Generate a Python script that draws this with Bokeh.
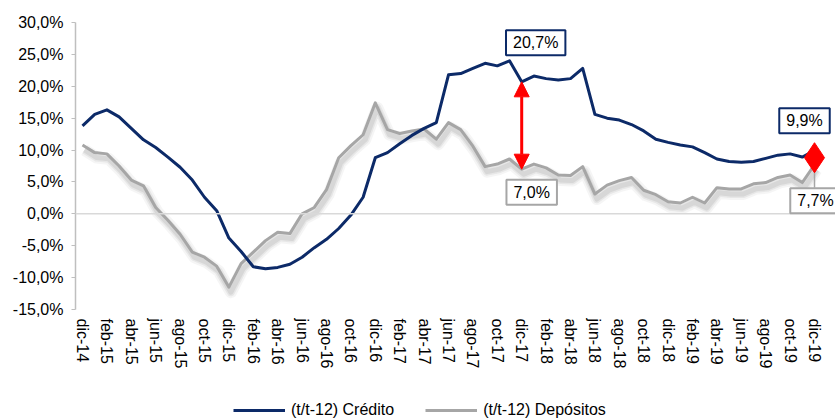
from bokeh.plotting import figure
from bokeh.models import (Range1d, FixedTicker, Label, Span, Arrow, NormalHead,
                          Legend, LegendItem, ColumnDataSource)
from bokeh.embed import file_html
from bokeh.resources import INLINE

# ---------------- data ----------------
months = ["dic-14", "ene-15", "feb-15", "mar-15", "abr-15", "may-15", "jun-15", "jul-15",
          "ago-15", "sep-15", "oct-15", "nov-15", "dic-15", "ene-16", "feb-16", "mar-16",
          "abr-16", "may-16", "jun-16", "jul-16", "ago-16", "sep-16", "oct-16", "nov-16",
          "dic-16", "ene-17", "feb-17", "mar-17", "abr-17", "may-17", "jun-17", "jul-17",
          "ago-17", "sep-17", "oct-17", "nov-17", "dic-17", "ene-18", "feb-18", "mar-18",
          "abr-18", "may-18", "jun-18", "jul-18", "ago-18", "sep-18", "oct-18", "nov-18",
          "dic-18", "ene-19", "feb-19", "mar-19", "abr-19", "may-19", "jun-19", "jul-19",
          "ago-19", "sep-19", "oct-19", "nov-19", "dic-19"]

credito = [13.8, 15.6, 16.3, 15.2, 13.4, 11.6, 10.4, 8.9, 7.3, 5.3, 2.6, 0.5,
           -3.8, -5.9, -8.3, -8.6, -8.4, -7.9, -6.8, -5.3, -4.0, -2.3, -0.2, 2.6,
           8.8, 9.6, 11.0, 12.3, 13.4, 14.3, 21.8, 22.0, 22.8, 23.6, 23.2, 24.0,
           20.7, 21.6, 21.2, 21.0, 21.2, 22.8, 15.6, 15.0, 14.7, 14.0, 13.0, 11.7,
           11.2, 10.8, 10.5, 9.6, 8.6, 8.2, 8.1, 8.2, 8.7, 9.2, 9.4, 8.9, 9.9]

depositos = [10.8, 9.6, 9.4, 7.5, 5.3, 4.4, 1.0, -1.0, -3.2, -6.0, -6.8, -8.2,
             -11.5, -7.8, -6.0, -4.2, -2.9, -3.1, 0.0, 1.0, 3.8, 8.8, 10.7, 12.4,
             17.4, 13.2, 12.6, 13.0, 13.3, 11.7, 14.3, 13.2, 10.6, 7.4, 7.8, 8.6,
             7.0, 7.8, 7.2, 6.1, 6.0, 7.4, 3.1, 4.5, 5.2, 5.7, 3.7, 3.0,
             1.9, 1.7, 2.6, 1.7, 4.1, 3.9, 3.9, 4.7, 4.9, 5.7, 6.1, 4.9, 7.7]

x_tick_labels = ["dic-14", "feb-15", "abr-15", "jun-15", "ago-15", "oct-15", "dic-15",
                 "feb-16", "abr-16", "jun-16", "ago-16", "oct-16", "dic-16", "feb-17",
                 "abr-17", "jun-17", "ago-17", "oct-17", "dic-17", "feb-18", "abr-18",
                 "jun-18", "ago-18", "oct-18", "dic-18", "feb-19", "abr-19", "jun-19",
                 "ago-19", "oct-19", "dic-19"]
y_ticks = [-15, -10, -5, 0, 5, 10, 15, 20, 25, 30]
y_tick_labels = ["-15,0%", "-10,0%", "-5,0%", "0,0%", "5,0%", "10,0%", "15,0%",
                 "20,0%", "25,0%", "30,0%"]

serie_credito = "(t/t-12) Crédito"
serie_depositos = "(t/t-12) Depósitos"

# ---------------- styling ----------------
NAVY = "#0C2A68"
GRAY = "#A6A6A6"
RED = "#FF0000"
FONT = "Liberation Sans"
FS = "16px"

W, H = 835, 419
LEFT, TOP = 75, 22
PX_Y = 287 / 45.0          # pixels per percentage point
PX_X = 12.2                # pixels per month

x_idx = list(range(len(months)))
src = ColumnDataSource(dict(x=x_idx, credito=credito, depositos=depositos))

frame_w = W - LEFT
X0 = -7 / PX_X
X1 = X0 + frame_w / PX_X
Y_LO, Y_HI = y_ticks[0], y_ticks[-1]
Y0 = Y_LO - (H - 309) / PX_Y
Y1 = Y_HI

p = figure(width=W, height=H, output_backend="svg", toolbar_location=None,
           x_range=Range1d(X0, X1), y_range=Range1d(Y0, Y1),
           min_border_left=LEFT, min_border_right=0, min_border_top=TOP,
           min_border_bottom=0)
p.grid.visible = False
p.outline_line_color = None
p.background_fill_color = "white"
p.border_fill_color = "white"

# x axis, drawn at the bottom of the value range
xa = p.xaxis[0]
xa.fixed_location = Y_LO
xa.ticker = FixedTicker(ticks=x_idx[::2])
xa.major_label_overrides = {i: lab for i, lab in zip(x_idx[::2], x_tick_labels)}
xa.major_label_orientation = "vertical"
xa.axis_line_color = None
xa.major_tick_line_color = None
xa.minor_tick_line_color = None
xa.major_tick_out = 0
xa.major_label_standoff = 9
xa.major_label_text_font = FONT
xa.major_label_text_font_size = FS
xa.major_label_text_color = "#000000"

# y axis
ya = p.yaxis[0]
ya.bounds = (Y_LO, Y_HI)
ya.ticker = FixedTicker(ticks=y_ticks)
ya.major_label_overrides = {t: lab for t, lab in zip(y_ticks, y_tick_labels)}
ya.axis_line_color = "#BFBFBF"
ya.axis_line_width = 1.5
ya.major_tick_line_color = "#BFBFBF"
ya.major_tick_out = 4
ya.major_tick_in = 0
ya.minor_tick_line_color = None
ya.major_label_standoff = 8
ya.major_label_text_font = FONT
ya.major_label_text_font_size = FS
ya.major_label_text_color = "#000000"

# zero line
p.add_layout(Span(location=0, dimension="width", line_color="#D9D9D9", line_width=1.5))

# shadow of deposits line (shifted copy via extra ranges)
dy = 5 / PX_Y
dx = 2 / PX_X
p.extra_y_ranges = {"sh": Range1d(Y0 + dy, Y1 + dy)}
p.extra_x_ranges = {"shx": Range1d(X0 - dx, X1 - dx)}
for w, a in [(12, 0.08), (8, 0.12), (5, 0.16)]:
    p.line("x", "depositos", source=src, x_range_name="shx", y_range_name="sh",
           line_width=w, line_color="#808080", line_alpha=a, line_join="round")

r_dep = p.line("x", "depositos", source=src, line_width=3, line_color=GRAY, line_join="round")
r_cred = p.line("x", "credito", source=src, line_width=3, line_color=NAVY, line_join="round")

def fmt(v):
    return f"{v:.1f}".replace(".", ",") + "%"

i17 = months.index("dic-17")
iL = len(months) - 1

# red double arrow at dic-17
p.add_layout(Arrow(start=NormalHead(size=15, fill_color=RED, line_color=RED),
                   end=NormalHead(size=15, fill_color=RED, line_color=RED),
                   x_start=i17, y_start=depositos[i17], x_end=i17, y_end=credito[i17],
                   line_color=RED, line_width=3))

# leader line for last deposit label
p.segment(x0=[iL], y0=[depositos[iL]], x1=[iL], y1=[depositos[iL] - 23 / PX_Y],
          line_color=GRAY, line_width=1.5)

# red diamond at dic-19
p.scatter(x=[iL], y=[(credito[iL] + depositos[iL]) / 2], marker="diamond", size=30,
          fill_color=RED, line_color=RED)

def box_label(x, y, text, color, xo, yo):
    p.add_layout(Label(x=x, y=y, text=text, x_offset=xo, y_offset=yo,
                       text_align="center", text_baseline="middle",
                       text_font=FONT, text_font_size=FS, text_color="#000000",
                       border_line_color=color, border_line_width=2,
                       background_fill_color="white", padding=(7, 4)))

box_label(i17, credito[i17], fmt(credito[i17]), NAVY, 14, 39)
box_label(i17, depositos[i17], fmt(depositos[i17]), GRAY, 10, -23)
box_label(iL, credito[iL], fmt(credito[iL]), NAVY, -10, 30)
box_label(iL, depositos[iL], fmt(depositos[iL]), GRAY, 1, -36)

legend = Legend(items=[LegendItem(label=serie_credito, renderers=[r_cred]),
                       LegendItem(label=serie_depositos, renderers=[r_dep])],
                orientation="horizontal", location=(158, 0),
                glyph_width=52, glyph_height=16, label_standoff=6, spacing=31,
                padding=0, border_line_alpha=0, background_fill_alpha=0,
                label_text_font=FONT, label_text_font_size=FS,
                label_text_color="#000000")
p.add_layout(legend)

open("out.html", "w").write(file_html(p, INLINE))
